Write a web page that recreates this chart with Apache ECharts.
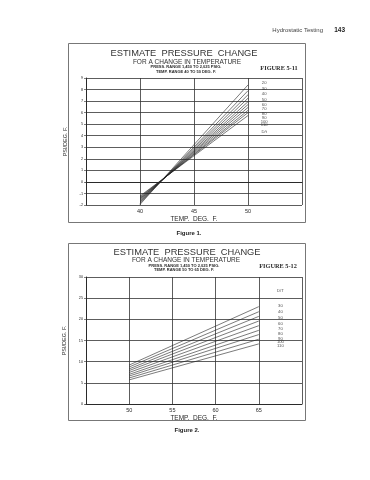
<!DOCTYPE html>
<html>
<head>
<meta charset="utf-8">
<script src="https://cdn.jsdelivr.net/npm/echarts@6/dist/echarts.min.js"></script>
<style>
html,body{margin:0;padding:0;background:#fff;}
#c{width:370px;height:480px;}
</style>
</head>
<body>
<div id="c"></div>
<script>
// ---- Figure 1 (5-11) data ----
const fig1Temps = [40, 50];
const fig1Start = [-1.95, -1.85, -1.75, -1.68, -1.6, -1.52, -1.45, -1.38, -1.3, -1.22];
const fig1End   = [8.4, 7.9, 7.55, 7.25, 6.95, 6.7, 6.45, 6.2, 6.0, 5.75];
const fig1Labels = ['20', '30', '40', '50', '60', '70', '80', '90', '100', '110'];
const fig1LabelY = [8.55, 8.1, 7.6, 7.15, 6.7, 6.3, 5.9, 5.55, 5.2, 4.9];
const fig1XTicks = [40, 45, 50];
const fig1YTicks = [-2, -1, 0, 1, 2, 3, 4, 5, 6, 7, 8, 9];

// ---- Figure 2 (5-12) data ----
const fig2Temps = [50, 65];
const fig2Start = [9.2, 8.75, 8.3, 7.9, 7.45, 7.0, 6.6, 6.15, 5.7];
const fig2End   = [23.0, 21.8, 20.7, 19.6, 18.5, 17.4, 16.4, 15.3, 14.2];
const fig2Labels = ['30', '40', '50', '60', '70', '80', '90', '100', '110'];
const fig2LabelY = [23.2, 21.7, 20.3, 18.9, 17.8, 16.5, 15.4, 14.6, 13.7];
const fig2XTicks = [50, 55, 60, 65];
const fig2YTicks = [0, 5, 10, 15, 20, 25, 30];

const chart = echarts.init(document.getElementById('c'), null, {renderer: 'canvas'});
const ink = '#2a2a2a';
const font = 'Liberation Sans, Arial, sans-serif';

function xAxis(gi, min, max, ticks) {
  return {
    type: 'value', gridIndex: gi, min: min, max: max, interval: 5,
    name: 'TEMP.  DEG.  F.', nameLocation: 'middle', nameGap: 11,
    nameTextStyle: {fontSize: 6.5, color: ink, fontFamily: font},
    axisLine: {show: true, lineStyle: {color: ink, width: 1}},
    axisTick: {show: false},
    axisLabel: {fontSize: 5.5, color: ink, margin: 3, fontFamily: font,
      formatter: v => ticks.indexOf(v) >= 0 ? String(v) : ''},
    splitLine: {show: true, lineStyle: {color: '#333', width: 0.8}}
  };
}
function yAxis(gi, min, max, interval, ticks) {
  return {
    type: 'value', gridIndex: gi, min: min, max: max, interval: interval,
    name: 'PSI/DEG. F.', nameLocation: 'middle', nameGap: 10, nameRotate: 90,
    nameTextStyle: {fontSize: 5.5, color: ink, fontFamily: font},
    axisLine: {show: true, lineStyle: {color: ink, width: 1}},
    axisTick: {show: true, length: 2, lineStyle: {color: ink, width: 0.6}},
    axisLabel: {fontSize: 3.8, color: ink, margin: 3, fontFamily: font,
      formatter: v => ticks.indexOf(v) >= 0 ? String(v) : ''},
    splitLine: {show: true, lineStyle: {color: '#333', width: 0.8}}
  };
}

const series = [];
fig1Start.forEach((s, i) => {
  series.push({type: 'line', xAxisIndex: 0, yAxisIndex: 0, showSymbol: false, silent: true,
    lineStyle: {color: '#222', width: 0.6},
    data: [[fig1Temps[0], s], [fig1Temps[1], fig1End[i]]]});
});
fig2Start.forEach((s, i) => {
  series.push({type: 'line', xAxisIndex: 1, yAxisIndex: 1, showSymbol: false, silent: true,
    lineStyle: {color: '#222', width: 0.6},
    data: [[fig2Temps[0], s], [fig2Temps[1], fig2End[i]]]});
});
series.push({type: 'scatter', xAxisIndex: 0, yAxisIndex: 0, symbolSize: 0, silent: true,
  label: {show: true, position: 'inside', formatter: p => p.name, fontSize: 4.2, color: '#222', fontFamily: font},
  data: fig1Labels.map((t, i) => ({name: t, value: [51.5, fig1LabelY[i]]})).concat([{name: 'D/t', value: [51.5, 4.3]}])});
series.push({type: 'scatter', xAxisIndex: 1, yAxisIndex: 1, symbolSize: 0, silent: true,
  label: {show: true, position: 'inside', formatter: p => p.name, fontSize: 4.2, color: '#222', fontFamily: font},
  data: fig2Labels.map((t, i) => ({name: t, value: [67.5, fig2LabelY[i]]})).concat([{name: 'D/T', value: [67.5, 26.7]}])});

function txt(x, y, s, size, opts) {
  return {type: 'text', x: x, y: y, style: Object.assign({text: s, fontSize: size,
    fill: ink, fontFamily: font, textAlign: 'center', textVerticalAlign: 'middle'}, opts || {})};
}

const graphic = [
  {type: 'rect', shape: {x: 68.5, y: 43.5, width: 237, height: 179}, style: {fill: 'none', stroke: '#777', lineWidth: 1}},
  {type: 'rect', shape: {x: 68.5, y: 243.5, width: 237, height: 177}, style: {fill: 'none', stroke: '#777', lineWidth: 1}},
  txt(323, 30, 'Hydrostatic Testing', 6, {textAlign: 'right', fill: '#444'}),
  txt(345, 30, '143', 6.5, {textAlign: 'right', fontWeight: 'bold', fill: '#222'}),
  // figure 1 titles
  txt(184, 53, 'ESTIMATE  PRESSURE  CHANGE', 9.3, {fill: '#333'}),
  txt(187, 62, 'FOR A CHANGE IN TEMPERATURE', 6.5, {fill: '#333'}),
  txt(186, 67, 'PRESS. RANGE 1,450 TO 2,025 PSIG.', 4, {fontWeight: 'bold'}),
  txt(186, 71.5, 'TEMP. RANGE 40 TO 50 DEG. F.', 4, {fontWeight: 'bold'}),
  txt(279, 68, 'FIGURE 5-11', 6.3, {fontWeight: 'bold', fontFamily: 'Liberation Serif, serif'}),
  txt(189, 233, 'Figure 1.', 6, {fontWeight: 'bold', fill: '#222'}),
  // figure 2 titles
  txt(187, 252, 'ESTIMATE  PRESSURE  CHANGE', 9.3, {fill: '#333'}),
  txt(186, 260, 'FOR A CHANGE IN TEMPERATURE', 6.5, {fill: '#333'}),
  txt(184, 265.5, 'PRESS. RANGE 1,450 TO 2,025 PSIG.', 4, {fontWeight: 'bold'}),
  txt(184, 270, 'TEMP. RANGE 50 TO 65 DEG. F.', 4, {fontWeight: 'bold'}),
  txt(278, 266, 'FIGURE 5-12', 6.3, {fontWeight: 'bold', fontFamily: 'Liberation Serif, serif'}),
  txt(187, 430, 'Figure 2.', 6, {fontWeight: 'bold', fill: '#222'})
];

chart.setOption({
  animation: false,
  backgroundColor: '#fff',
  grid: [
    {left: 86, top: 78, width: 216, height: 127, show: false},
    {left: 86, top: 277, width: 216, height: 127, show: false}
  ],
  xAxis: [xAxis(0, 35, 55, fig1XTicks), xAxis(1, 45, 70, fig2XTicks)],
  yAxis: [yAxis(0, -2, 9, 1, fig1YTicks), yAxis(1, 0, 30, 5, fig2YTicks)],
  series: series,
  graphic: graphic
});
</script>
</body>
</html>
